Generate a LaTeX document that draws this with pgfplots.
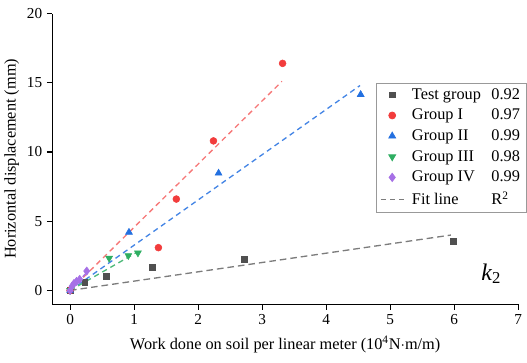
\documentclass[border=0pt]{standalone}
\usepackage{pgfplots}
\pgfplotsset{compat=1.18}
\usepackage{fontspec}
\setmainfont{Liberation Serif}
\definecolor{cgray}{HTML}{505050}
\definecolor{cred}{HTML}{F23C3C}
\definecolor{cblue}{HTML}{2370E0}
\definecolor{cgreen}{HTML}{2FAE62}
\definecolor{cpurple}{HTML}{A670E6}
\newcommand{\lab}[2]{\makebox[60pt][l]{#1}#2}
\begin{document}
\begin{tikzpicture}
\begin{axis}[
  scale only axis, width=351.75pt, height=219.5pt,
  xmin=-0.28, xmax=7, ymin=-1, ymax=20,
  axis x line*=bottom, axis y line*=left,
  axis line style={line width=1pt},
  tick align=outside, major tick length=4pt,
  tick style={line width=0.8pt, black},
  xtick={0,1,...,7}, ytick={0,5,10,15,20},
  /pgf/number format/assume math mode=true,
  ticklabel style={font=\fontsize{11.5pt}{13pt}\selectfont},
  label style={font=\fontsize{12.3pt}{14pt}\selectfont},
  xlabel={Work done on soil per linear meter (10\textsuperscript{4}N$\cdot$m/m)},
  ylabel={Horizontal displacement (mm)},
  xlabel style={yshift=-2pt},
  ylabel style={yshift=-1pt},
  legend cell align=left,
  legend style={at={(0.695,0.762)}, anchor=north west, draw=gray!80, line width=0.6pt,
    font=\fontsize{12.3pt}{14pt}\selectfont, row sep=1.9pt, column sep=4pt,
    inner xsep=3pt, inner ysep=2pt},
]
% fit lines
\addplot[forget plot, cgray!75, line width=1pt, dash pattern=on 5pt off 3pt] coordinates {(0,0) (5.95,4.0)};
\addplot[forget plot, cred!70, line width=1pt, dash pattern=on 4pt off 3pt] coordinates {(0,0) (3.31,15.1)};
\addplot[forget plot, cblue!85, line width=1pt, dash pattern=on 4pt off 3pt] coordinates {(0,0) (4.53,14.8)};
\addplot[forget plot, cgreen!85, line width=1pt, dash pattern=on 4pt off 3pt] coordinates {(0,0) (1.06,2.8)};
\addplot[forget plot, cpurple, line width=1pt, dash pattern=on 4pt off 3pt] coordinates {(0,0) (0.26,1.3)};
% data
\addplot[only marks, mark=square*, mark size=2.2pt, color=cgray] coordinates {
(0,0) (0.23,0.6) (0.57,1.03) (1.28,1.7) (2.72,2.28) (5.99,3.55)};
\addlegendentry{\lab{Test group}{0.92}}
\addplot[only marks, mark=*, mark size=2.6pt, color=cred] coordinates {
(0,0) (1.38,3.09) (1.66,6.6) (2.24,10.8) (3.32,16.4)};
\addlegendentry{\lab{Group I}{0.97}}
\addplot[only marks, mark=triangle*, mark size=3pt, color=cblue] coordinates {
(0,0) (0.92,4.2) (2.32,8.47) (4.54,14.15)};
\addlegendentry{\lab{Group II}{0.99}}
\addplot[only marks, mark=triangle*, mark options={rotate=180}, mark size=3pt, color=cgreen] coordinates {
(0,0) (0.61,2.33) (0.91,2.52) (1.06,2.71)};
\addlegendentry{\lab{Group III}{0.98}}
\addplot[only marks, mark=diamond*, mark size=3.1pt, color=cpurple] coordinates {
(0,0) (0.03,0.3) (0.06,0.5) (0.1,0.65) (0.15,0.8) (0.26,1.4)};
\addlegendentry{\lab{Group IV}{0.99}}
\addlegendimage{cgray!75, line width=0.8pt, dash pattern=on 4pt off 3pt}
\addlegendentry{\lab{Fit line}{R\textsuperscript{2}}}
\node[font=\fontsize{18pt}{20pt}\selectfont] at (axis cs:6.58,1.2) {\textit{k}\textsubscript{2}};
\end{axis}
\path ([yshift=-4pt]current bounding box.south) -- ([yshift=3pt]current bounding box.north);
\end{tikzpicture}
\end{document}
